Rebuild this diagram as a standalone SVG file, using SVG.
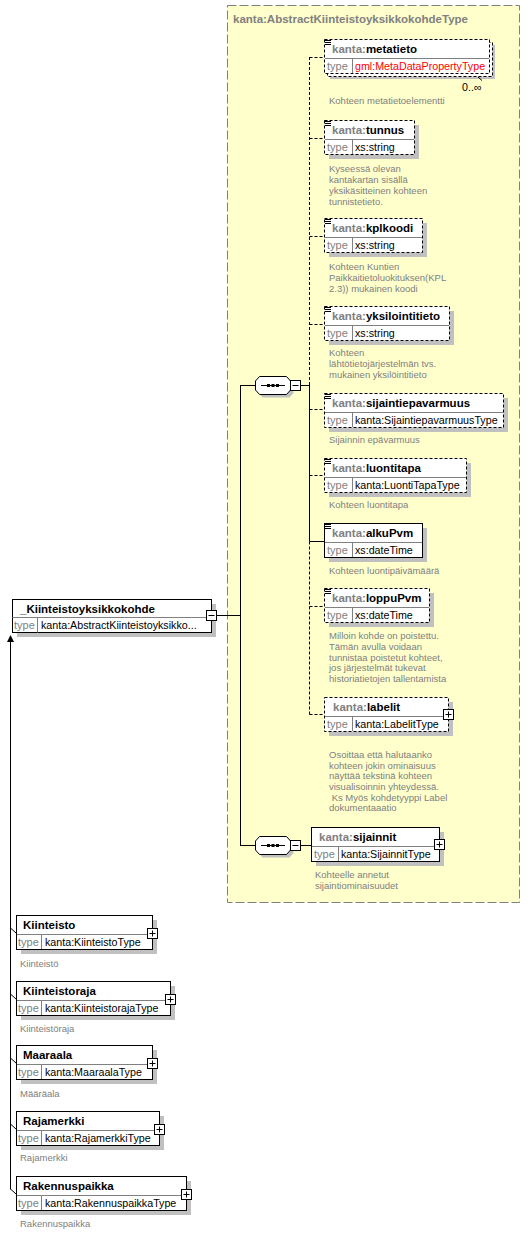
<svg xmlns="http://www.w3.org/2000/svg" xmlns:xlink="http://www.w3.org/1999/xlink" width="531" height="1233" viewBox="0 0 531 1233">
<style>
.bx{fill:#fff;stroke:#000;stroke-width:1}
.db{fill:#fff;stroke:#000;stroke-width:1;stroke-dasharray:3,2}
.sh{fill:#c0c0c0}
.sp{stroke:#808080;stroke-width:1;fill:none}
.nm{font-family:"Liberation Sans",Arial,sans-serif;font-weight:bold;font-size:11.5px;fill:#000}
.px{fill:#808080}
.ty{font-family:"Liberation Sans",Arial,sans-serif;font-size:10.7px;fill:#000}
.tl{font-family:"Liberation Sans",Arial,sans-serif;font-size:11px;fill:#808080}
.red{fill:#ff0000}
.ds{font-family:"Liberation Sans",Arial,sans-serif;font-size:9.5px;fill:#808080}
.ln{stroke:#000;stroke-width:1;fill:none}
.dl{stroke:#000;stroke-width:1;fill:none;stroke-dasharray:3,2}
.ttl{font-family:"Liberation Sans",Arial,sans-serif;font-weight:bold;font-size:11.5px;fill:#808080}
</style>
<defs>
<g id="plus"><rect x="0.5" y="0.5" width="10" height="10" fill="#fff" stroke="#000"/><path d="M2.5 5.5h6M5.5 2.5v6" stroke="#000"/></g>
<g id="minus"><rect x="0.5" y="0.5" width="10" height="10" fill="#fff" stroke="#000"/><path d="M2.5 5.5h6" stroke="#000"/></g>
<path id="doc" d="M1 1.5h6M1 3.5h6M1 5.5h6" stroke="#000" fill="none"/>
<g id="seq">
<polygon points="7.5,-5.5 34.5,-5.5 38.5,-1 38.5,8 34.5,12.5 7.5,12.5 3.5,8 3.5,-1" class="sh"/>
<polygon points="4.5,-8.5 31.5,-8.5 35.5,-4 35.5,5 31.5,9.5 4.5,9.5 0.5,5 0.5,-4" fill="#fff" stroke="#000"/>
<path d="M6 0.5H30" stroke="#000"/>
<rect x="12" y="-1" width="3" height="3" fill="#000"/>
<rect x="16.5" y="-1" width="3" height="3" fill="#000"/>
<rect x="21" y="-1" width="3" height="3" fill="#000"/>
<use xlink:href="#minus" href="#minus" x="35" y="-5"/>
</g>
</defs>

<g id="type-container">
<rect x="227.5" y="5.5" width="292" height="897" fill="#ffffcc" stroke="#808080" stroke-dasharray="9,3"/>
<text class="ttl" x="233" y="23">kanta:AbstractKiinteistoyksikkokohdeType</text>
</g>

<g id="connectors">
<path class="ln" d="M217 615.5H240.5M240.5 385V846M240.5 385.5H255M240.5 845.5H255M291 385.5H309.5M291 845.5H311"/>
<path class="dl" d="M309.5 57V385"/>
<path class="ln" d="M309.5 385V541.5"/>
<path class="dl" d="M309.5 541.5V714.5"/>
<path class="dl" d="M309.5 57.5H324M309.5 138.5H324M309.5 236.5H324M309.5 324.5H324M309.5 409.5H324M309.5 475.5H324M309.5 606.5H324M309.5 714.5H324"/>
<path class="ln" d="M309.5 541.5H324"/>
<path class="ln" d="M10.5 641V1189.5"/>
<polygon points="10.5,635 7,642 14,642" fill="#000"/>
<path class="ln" d="M10.5 928L16 933M10.5 994L16 999M10.5 1058L16 1063M10.5 1124L16 1129M10.5 1189L16 1194"/>
</g>

<g id="seq1"><use xlink:href="#seq" href="#seq" transform="translate(255,385)"/></g>
<g id="seq2"><use xlink:href="#seq" href="#seq" transform="translate(255,845)"/></g>

<g id="node-main">
<rect class="sh" x="17" y="604" width="199" height="33"/>
<rect class="bx" x="12.5" y="599.5" width="199" height="33"/>
<path class="sp" d="M12.5 617.5H211.5M37.5 617.5V632.5"/>
<text class="nm" x="20" y="613">_Kiinteistoyksikkokohde</text>
<text class="tl" x="14" y="629">type</text>
<text class="ty" x="41" y="629">kanta:AbstractKiinteistoyksikko...</text>
<use xlink:href="#minus" href="#minus" x="206" y="610"/>
</g>

<g id="node-metatieto">
<rect class="sh" x="330" y="45" width="165" height="34"/>
<rect class="db" x="327.5" y="42.5" width="165" height="34"/>
<rect class="db" x="324.5" y="39.5" width="165" height="34"/>
<path class="sp" d="M325 58.5H489M352.5 58.5V73"/>
<use xlink:href="#doc" href="#doc" x="324" y="39"/>
<text class="nm" x="332" y="53"><tspan class="px">kanta:</tspan>metatieto</text>
<text class="tl" x="327" y="70">type</text>
<text class="ty red" x="355" y="70">gml:MetaDataPropertyType</text>
<path class="ln" d="M478 77L482 80.5"/>
<text class="ty" x="462" y="91">0..∞</text>
<text class="ds" x="329" y="104">Kohteen metatietoelementti</text>
</g>

<g id="node-tunnus">
<rect class="sh" x="329" y="125" width="90" height="34"/>
<rect class="db" x="324.5" y="120.5" width="90" height="34"/>
<path class="sp" d="M325 139.5H414M352.5 139.5V154"/>
<use xlink:href="#doc" href="#doc" x="324" y="120"/>
<text class="nm" x="332" y="134"><tspan class="px">kanta:</tspan>tunnus</text>
<text class="tl" x="327" y="151">type</text>
<text class="ty" x="355" y="151">xs:string</text>
<text class="ds" x="329" y="171.5">Kyseessä olevan</text>
<text class="ds" x="329" y="182.5">kantakartan sisällä</text>
<text class="ds" x="329" y="193.5">yksikäsitteinen kohteen</text>
<text class="ds" x="329" y="204.5">tunnistetieto.</text>
</g>

<g id="node-kplkoodi">
<rect class="sh" x="329" y="223" width="98" height="34"/>
<rect class="db" x="324.5" y="218.5" width="98" height="34"/>
<path class="sp" d="M325 237.5H422M352.5 237.5V252"/>
<use xlink:href="#doc" href="#doc" x="324" y="218"/>
<text class="nm" x="332" y="232"><tspan class="px">kanta:</tspan>kplkoodi</text>
<text class="tl" x="327" y="249">type</text>
<text class="ty" x="355" y="249">xs:string</text>
<text class="ds" x="329" y="269.5">Kohteen Kuntien</text>
<text class="ds" x="329" y="280.5">Paikkaitietoluokituksen(KPL</text>
<text class="ds" x="329" y="291.5">2.3)) mukainen koodi</text>
</g>

<g id="node-yksilointitieto">
<rect class="sh" x="329" y="311" width="125" height="34"/>
<rect class="db" x="324.5" y="306.5" width="125" height="34"/>
<path class="sp" d="M325 325.5H449M352.5 325.5V340"/>
<use xlink:href="#doc" href="#doc" x="324" y="306"/>
<text class="nm" x="332" y="320"><tspan class="px">kanta:</tspan>yksilointitieto</text>
<text class="tl" x="327" y="337">type</text>
<text class="ty" x="355" y="337">xs:string</text>
<text class="ds" x="329" y="356">Kohteen</text>
<text class="ds" x="329" y="367">lähtötietojärjestelmän  tvs.</text>
<text class="ds" x="329" y="378">mukainen yksilöintitieto</text>
</g>

<g id="node-sijaintiepavarmuus">
<rect class="sh" x="329" y="398" width="179" height="34"/>
<rect class="db" x="324.5" y="393.5" width="179" height="34"/>
<path class="sp" d="M325 412.5H503M352.5 412.5V427"/>
<use xlink:href="#doc" href="#doc" x="324" y="393"/>
<text class="nm" x="332" y="407"><tspan class="px">kanta:</tspan>sijaintiepavarmuus</text>
<text class="tl" x="327" y="424">type</text>
<text class="ty" x="355" y="424">kanta:SijaintiepavarmuusType</text>
<text class="ds" x="329" y="442.5">Sijainnin epävarmuus</text>
</g>

<g id="node-luontitapa">
<rect class="sh" x="329" y="463" width="142" height="34"/>
<rect class="db" x="324.5" y="458.5" width="142" height="34"/>
<path class="sp" d="M325 477.5H466M352.5 477.5V492"/>
<use xlink:href="#doc" href="#doc" x="324" y="458"/>
<text class="nm" x="332" y="472"><tspan class="px">kanta:</tspan>luontitapa</text>
<text class="tl" x="327" y="489">type</text>
<text class="ty" x="355" y="489">kanta:LuontiTapaType</text>
<text class="ds" x="329" y="507.5">Kohteen luontitapa</text>
</g>

<g id="node-alkuPvm">
<rect class="sh" x="329" y="528" width="98" height="34"/>
<rect class="bx" x="324.5" y="523.5" width="98" height="34"/>
<path class="sp" d="M325 542.5H422M352.5 542.5V557"/>
<use xlink:href="#doc" href="#doc" x="324" y="523"/>
<text class="nm" x="332" y="537"><tspan class="px">kanta:</tspan>alkuPvm</text>
<text class="tl" x="327" y="554">type</text>
<text class="ty" x="355" y="554">xs:dateTime</text>
<text class="ds" x="329" y="573.5">Kohteen luontipäivämäärä</text>
</g>

<g id="node-loppuPvm">
<rect class="sh" x="329" y="593" width="105" height="34"/>
<rect class="db" x="324.5" y="588.5" width="105" height="34"/>
<path class="sp" d="M325 607.5H429M352.5 607.5V622"/>
<use xlink:href="#doc" href="#doc" x="324" y="588"/>
<text class="nm" x="332" y="602"><tspan class="px">kanta:</tspan>loppuPvm</text>
<text class="tl" x="327" y="619">type</text>
<text class="ty" x="355" y="619">xs:dateTime</text>
<text class="ds" x="329" y="639">Milloin kohde on poistettu.</text>
<text class="ds" x="329" y="650">Tämän avulla voidaan</text>
<text class="ds" x="329" y="660.5">tunnistaa poistetut kohteet,</text>
<text class="ds" x="329" y="671">jos järjestelmät tukevat</text>
<text class="ds" x="329" y="681.5">historiatietojen tallentamista</text>
</g>

<g id="node-labelit">
<rect class="sh" x="329" y="702" width="124" height="34"/>
<rect class="db" x="324.5" y="697.5" width="124" height="34"/>
<path class="sp" d="M325 716.5H448M352.5 716.5V731"/>
<text class="nm" x="333" y="711"><tspan class="px">kanta:</tspan>labelit</text>
<text class="tl" x="327" y="728">type</text>
<text class="ty" x="355" y="728">kanta:LabelitType</text>
<use xlink:href="#plus" href="#plus" x="443" y="709"/>
<text class="ds" x="329" y="758">Osoittaa että halutaanko</text>
<text class="ds" x="329" y="768.5">kohteen jokin ominaisuus</text>
<text class="ds" x="329" y="779">näyttää tekstinä kohteen</text>
<text class="ds" x="329" y="790">visualisoinnin yhteydessä.</text>
<text class="ds" x="329" y="800.5" xml:space="preserve"> Ks Myös kohdetyyppi Label</text>
<text class="ds" x="329" y="811">dokumentaaatio</text>
</g>

<g id="node-sijainnit">
<rect class="sh" x="316" y="832" width="128" height="34"/>
<rect class="bx" x="311.5" y="827.5" width="128" height="34"/>
<path class="sp" d="M312 846.5H439M338.5 846.5V861"/>
<text class="nm" x="319" y="841"><tspan class="px">kanta:</tspan>sijainnit</text>
<text class="tl" x="314" y="858">type</text>
<text class="ty" x="341" y="858">kanta:SijainnitType</text>
<use xlink:href="#plus" href="#plus" x="434" y="839"/>
<text class="ds" x="315" y="878">Kohteelle annetut</text>
<text class="ds" x="315" y="888.5">sijaintiominaisuudet</text>
</g>

<g id="node-Kiinteisto">
<rect class="sh" x="21" y="920" width="136" height="34"/>
<rect class="bx" x="16.5" y="915.5" width="136" height="34"/>
<path class="sp" d="M17 934.5H152M41.5 934.5V949"/>
<text class="nm" x="23" y="929">Kiinteisto</text>
<text class="tl" x="18" y="946">type</text>
<text class="ty" x="45" y="946">kanta:KiinteistoType</text>
<use xlink:href="#plus" href="#plus" x="147" y="928"/>
<text class="ds" x="20" y="966.5">Kiinteistö</text>
</g>

<g id="node-Kiinteistoraja">
<rect class="sh" x="21" y="986" width="154" height="34"/>
<rect class="bx" x="16.5" y="981.5" width="154" height="34"/>
<path class="sp" d="M17 1000.5H170M41.5 1000.5V1015"/>
<text class="nm" x="23" y="995">Kiinteistoraja</text>
<text class="tl" x="18" y="1012">type</text>
<text class="ty" x="45" y="1012">kanta:KiinteistorajaType</text>
<use xlink:href="#plus" href="#plus" x="165" y="994"/>
<text class="ds" x="20" y="1031.5">Kiinteistöraja</text>
</g>

<g id="node-Maaraala">
<rect class="sh" x="21" y="1050" width="136" height="34"/>
<rect class="bx" x="16.5" y="1045.5" width="136" height="34"/>
<path class="sp" d="M17 1064.5H152M41.5 1064.5V1079"/>
<text class="nm" x="23" y="1059">Maaraala</text>
<text class="tl" x="18" y="1076">type</text>
<text class="ty" x="45" y="1076">kanta:MaaraalaType</text>
<use xlink:href="#plus" href="#plus" x="147" y="1058"/>
<text class="ds" x="20" y="1096.5">Määräala</text>
</g>

<g id="node-Rajamerkki">
<rect class="sh" x="21" y="1116" width="143" height="34"/>
<rect class="bx" x="16.5" y="1111.5" width="143" height="34"/>
<path class="sp" d="M17 1130.5H159M41.5 1130.5V1145"/>
<text class="nm" x="23" y="1125">Rajamerkki</text>
<text class="tl" x="18" y="1142">type</text>
<text class="ty" x="45" y="1142">kanta:RajamerkkiType</text>
<use xlink:href="#plus" href="#plus" x="154" y="1124"/>
<text class="ds" x="20" y="1160.5">Rajamerkki</text>
</g>

<g id="node-Rakennuspaikka">
<rect class="sh" x="21" y="1181" width="170" height="34"/>
<rect class="bx" x="16.5" y="1176.5" width="170" height="34"/>
<path class="sp" d="M17 1195.5H186M41.5 1195.5V1210"/>
<text class="nm" x="23" y="1190">Rakennuspaikka</text>
<text class="tl" x="18" y="1207">type</text>
<text class="ty" x="45" y="1207">kanta:RakennuspaikkaType</text>
<use xlink:href="#plus" href="#plus" x="181" y="1189"/>
<text class="ds" x="20" y="1226.5">Rakennuspaikka</text>
</g>
</svg>
